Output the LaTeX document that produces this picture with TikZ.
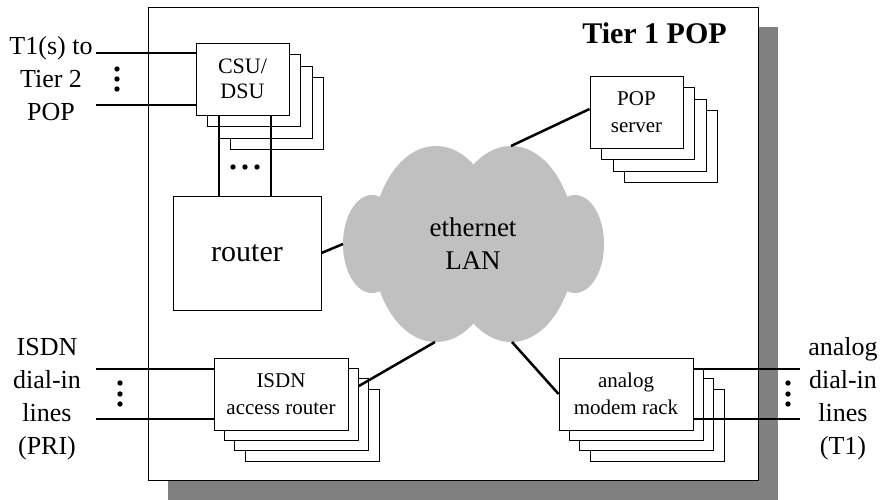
\documentclass[tikz,border=0pt]{standalone}
\usepackage{fontspec}
\setmainfont{Liberation Serif}
\usetikzlibrary{calc}
\definecolor{shadowgray}{HTML}{808080}
\definecolor{lancloud}{HTML}{C0C0C0}
\begin{document}
\begin{tikzpicture}[x=1pt,y=-1pt,
  unit/.style={draw, line width=0.9pt, fill=white, inner sep=0pt, align=center},
  smallunit/.style={unit, minimum width=93pt, minimum height=72pt},
  wideunit/.style={unit, minimum width=134pt, minimum height=72pt},
  wire/.style={line width=2.5pt},
  lbl/.style={align=center, inner sep=0pt, font=\fontsize{26}{33}\selectfont},
  boxtxt/.style={font=\fontsize{21}{27}\selectfont},
  dot/.style={fill=black}
]
\useasboundingbox (0,0) rectangle (887,499);

% drop shadow and the POP enclosure
\fill[shadowgray] (168,27) rectangle (778,500);
\draw[fill=white, line width=1pt] (148,7) rectangle (758,480);
\node[anchor=base, inner sep=0pt, font=\fontsize{30}{36}\selectfont\bfseries] (title) at (654.5,43) {Tier 1 POP};

% ethernet LAN cloud
\fill[lancloud] (436,244) ellipse [x radius=64, y radius=98];
\fill[lancloud] (511,244) ellipse [x radius=64, y radius=98];
\fill[lancloud] (372,244) ellipse [x radius=29, y radius=49];
\fill[lancloud] (575,244) ellipse [x radius=29, y radius=49];
\node[align=center, inner sep=0pt, font=\fontsize{27}{33}\selectfont] (lan) at (473,244) {ethernet\\LAN};
\coordinate (lan-w) at (343,244);
\coordinate (lan-n) at (511,146);
\coordinate (lan-sw) at (435,342);
\coordinate (lan-se) at (512,342);

% CSU/DSU stack
\node[smallunit] (csu4) at (277,113.5) {};
\node[smallunit] (csu3) at (265.5,102) {};
\node[smallunit] (csu2) at (254,90.5) {};
\node[smallunit, font=\fontsize{22}{25}\selectfont] (csu) at (242.5,79) {CSU/\\DSU};

% POP server stack
\node[smallunit] (pop4) at (671,146.5) {};
\node[smallunit] (pop3) at (659.5,135) {};
\node[smallunit] (pop2) at (648,123.5) {};
\node[smallunit, boxtxt] (pop) at (636.5,112) {POP\\server};

% router
\node[unit, minimum width=148pt, minimum height=114pt, font=\fontsize{30}{36}\selectfont] (router) at (247,253) {router};

% ISDN access router stack
\node[wideunit] (isdn4) at (312,425) {};
\node[wideunit] (isdn3) at (301.6,414.6) {};
\node[wideunit] (isdn2) at (291.3,404.3) {};
\node[wideunit, boxtxt] (isdn) at (281,394) {ISDN\\access router};

% analog modem rack stack
\node[wideunit] (ar4) at (657,425) {};
\node[wideunit] (ar3) at (646.6,414.6) {};
\node[wideunit] (ar2) at (636.3,404.3) {};
\node[wideunit, boxtxt] (ar) at (626,394) {analog\\modem rack};

% outside labels
\node[lbl] (t1lbl) at (51,78.5) {T1(s) to\\Tier 2\\POP};
\node[lbl] (isdnlbl) at (47,399) {ISDN\\dial-in\\lines\\(PRI)};
\node[lbl] (anlbl) at (843,398.5) {analog\\dial-in\\lines\\(T1)};

% T1 lines into the CSU/DSU
\coordinate (t1a) at (96,53);
\coordinate (t1b) at (96,105);
\draw[wire] (t1a) -- (t1a -| csu.west);
\draw[wire] (t1b) -- (t1b -| csu.west);
\foreach \y in {69,79,89} \fill[dot] (117,\y) circle (2.7);

% CSU/DSU to router
\coordinate (csuL) at ([xshift=-23.5pt]csu.south);
\coordinate (csuR) at ([xshift=28.5pt]csu.south);
\draw[wire] (csuL) -- (csuL |- router.north);
\draw[wire] (csuR) -- (csuR |- router.north);
\foreach \x in {233,245,257} \fill[dot] (\x,167) circle (2.7);

% ISDN dial-in lines
\coordinate (isa) at (96,369);
\coordinate (isb) at (96,419);
\draw[wire] (isa) -- (isa -| isdn.west);
\draw[wire] (isb) -- (isb -| isdn.west);
\foreach \y in {383,394,404} \fill[dot] (120,\y) circle (2.7);

% analog dial-in lines
\coordinate (ana) at (800,369);
\coordinate (anb) at (800,419);
\draw[wire] (ana -| ar.east) -- (ana);
\draw[wire] (anb -| ar.east) -- (anb);
\foreach \y in {383,394,404} \fill[dot] (788,\y) circle (2.7);

% LAN attachments
\draw[wire] (router.east) -- (lan-w);
\draw[wire] (lan-n) -- ([yshift=3pt]pop.west);
\draw[wire] (lan-sw) -- ($(isdn2.north east)!0.25!(isdn2.south east)$);
\draw[wire] (lan-se) -- (ar.west);
\end{tikzpicture}
\end{document}
